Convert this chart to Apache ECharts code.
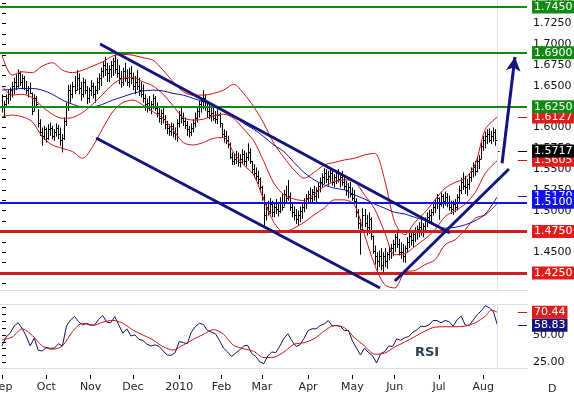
<!DOCTYPE html>
<html>
<head>
<meta charset="utf-8">
<script src="https://cdn.jsdelivr.net/npm/echarts@6/dist/echarts.min.js"></script>
<style>
html, body { margin: 0; padding: 0; background: #fff; }
#chart { width: 574px; height: 397px; }
</style>
</head>
<body>
<div id="chart"></div>
<script>
// x = weekday index, 0 = 1 Sep 2009, last bar (246) = 11 Aug 2010
var monthIdx = [0, 22, 44, 65, 88, 109, 129, 152, 174, 195, 217, 239];
var monthNames = ['Sep', 'Oct', 'Nov', 'Dec', '2010', 'Feb', 'Mar', 'Apr', 'May', 'Jun', 'Jul', 'Aug'];

var high = [
  1.640,1.632,1.640,1.645,1.648,1.655,1.660,1.664,1.670,1.668,
  1.664,1.662,1.656,1.650,1.654,1.642,1.640,1.638,1.622,1.610,
  1.600,1.602,1.600,1.604,1.606,1.602,1.598,1.605,1.603,1.600,
  1.592,1.612,1.630,1.651,1.652,1.655,1.662,1.669,1.665,1.655,
  1.660,1.658,1.650,1.648,1.657,1.654,1.650,1.660,1.665,1.672,
  1.680,1.685,1.678,1.675,1.680,1.684,1.688,1.682,1.675,1.668,
  1.672,1.678,1.670,1.672,1.674,1.666,1.662,1.669,1.660,1.655,
  1.652,1.640,1.635,1.638,1.632,1.640,1.638,1.630,1.625,1.622,
  1.625,1.615,1.608,1.604,1.606,1.605,1.600,1.610,1.620,1.624,
  1.618,1.612,1.608,1.602,1.605,1.610,1.618,1.625,1.632,1.636,
  1.645,1.640,1.630,1.628,1.625,1.627,1.620,1.622,1.618,1.605,
  1.598,1.596,1.590,1.582,1.570,1.568,1.572,1.570,1.568,1.574,
  1.572,1.570,1.581,1.575,1.560,1.556,1.552,1.548,1.540,1.530,
  1.520,1.510,1.512,1.515,1.512,1.508,1.514,1.510,1.516,1.520,
  1.525,1.530,1.537,1.522,1.510,1.505,1.502,1.500,1.505,1.508,
  1.515,1.520,1.524,1.528,1.526,1.530,1.528,1.534,1.540,1.545,
  1.551,1.550,1.548,1.550,1.548,1.544,1.549,1.550,1.545,1.548,
  1.542,1.536,1.533,1.535,1.528,1.525,1.515,1.502,1.490,1.503,
  1.502,1.495,1.498,1.492,1.470,1.458,1.450,1.452,1.455,1.450,
  1.455,1.450,1.458,1.460,1.465,1.472,1.477,1.466,1.462,1.460,
  1.458,1.468,1.474,1.477,1.475,1.480,1.482,1.486,1.489,1.485,
  1.492,1.498,1.501,1.502,1.510,1.514,1.520,1.516,1.522,1.520,
  1.523,1.521,1.518,1.512,1.512,1.514,1.520,1.530,1.540,1.546,
  1.542,1.538,1.545,1.552,1.558,1.560,1.565,1.567,1.582,1.590,
  1.595,1.598,1.599,1.596,1.600,1.598,1.586
];
var low = [
  1.618,1.612,1.625,1.628,1.632,1.636,1.640,1.645,1.648,1.650,
  1.646,1.645,1.640,1.636,1.640,1.615,1.620,1.624,1.600,1.590,
  1.578,1.585,1.582,1.585,1.590,1.586,1.584,1.589,1.586,1.578,
  1.570,1.585,1.602,1.620,1.630,1.635,1.640,1.645,1.640,1.632,
  1.636,1.640,1.628,1.630,1.638,1.635,1.630,1.640,1.645,1.650,
  1.660,1.662,1.655,1.655,1.660,1.662,1.665,1.660,1.652,1.648,
  1.650,1.655,1.650,1.648,1.652,1.645,1.640,1.645,1.638,1.636,
  1.630,1.620,1.618,1.620,1.616,1.622,1.620,1.612,1.606,1.603,
  1.605,1.598,1.592,1.590,1.590,1.588,1.585,1.583,1.600,1.605,
  1.602,1.598,1.590,1.588,1.590,1.594,1.600,1.606,1.612,1.618,
  1.622,1.620,1.612,1.610,1.607,1.608,1.605,1.604,1.600,1.588,
  1.582,1.580,1.575,1.562,1.555,1.555,1.556,1.553,1.552,1.556,
  1.555,1.553,1.560,1.556,1.545,1.540,1.536,1.532,1.522,1.512,
  1.480,1.488,1.494,1.496,1.492,1.492,1.496,1.493,1.497,1.500,
  1.505,1.510,1.512,1.500,1.492,1.488,1.484,1.482,1.486,1.490,
  1.498,1.502,1.508,1.510,1.509,1.512,1.510,1.515,1.522,1.528,
  1.532,1.533,1.530,1.534,1.530,1.528,1.532,1.534,1.528,1.530,
  1.525,1.518,1.515,1.516,1.512,1.508,1.492,1.478,1.447,1.475,
  1.480,1.470,1.472,1.465,1.448,1.435,1.428,1.432,1.428,1.425,
  1.432,1.430,1.440,1.442,1.445,1.450,1.455,1.446,1.442,1.438,
  1.437,1.450,1.455,1.458,1.456,1.462,1.465,1.468,1.470,1.468,
  1.474,1.480,1.484,1.485,1.494,1.497,1.502,1.489,1.505,1.503,
  1.506,1.504,1.500,1.496,1.495,1.498,1.500,1.510,1.520,1.525,
  1.520,1.518,1.525,1.535,1.540,1.542,1.546,1.550,1.562,1.572,
  1.575,1.580,1.582,1.580,1.583,1.578,1.567
];
var close = [
  1.625,1.628,1.636,1.640,1.645,1.650,1.655,1.650,1.665,1.655,
  1.660,1.648,1.645,1.648,1.642,1.620,1.635,1.628,1.605,1.595,
  1.590,1.598,1.588,1.598,1.600,1.590,1.595,1.600,1.592,1.585,
  1.588,1.608,1.625,1.645,1.640,1.650,1.645,1.660,1.648,1.640,
  1.655,1.645,1.635,1.645,1.650,1.640,1.645,1.655,1.660,1.668,
  1.675,1.670,1.665,1.670,1.675,1.680,1.670,1.665,1.660,1.655,
  1.668,1.660,1.655,1.665,1.660,1.650,1.655,1.650,1.645,1.640,
  1.635,1.628,1.630,1.625,1.628,1.635,1.624,1.618,1.612,1.618,
  1.610,1.604,1.600,1.596,1.602,1.594,1.592,1.605,1.615,1.612,
  1.608,1.603,1.598,1.595,1.600,1.606,1.612,1.620,1.628,1.625,
  1.635,1.625,1.620,1.615,1.618,1.612,1.610,1.615,1.605,1.592,
  1.590,1.585,1.580,1.565,1.560,1.562,1.565,1.558,1.562,1.568,
  1.560,1.565,1.570,1.560,1.550,1.545,1.542,1.538,1.528,1.516,
  1.495,1.505,1.500,1.508,1.498,1.504,1.502,1.500,1.510,1.505,
  1.520,1.515,1.518,1.505,1.498,1.495,1.490,1.495,1.500,1.505,
  1.510,1.515,1.520,1.515,1.522,1.518,1.525,1.530,1.535,1.540,
  1.545,1.538,1.542,1.545,1.535,1.540,1.545,1.538,1.540,1.535,
  1.530,1.525,1.528,1.520,1.515,1.512,1.498,1.485,1.478,1.495,
  1.485,1.480,1.490,1.470,1.452,1.445,1.440,1.445,1.435,1.445,
  1.440,1.448,1.452,1.455,1.460,1.468,1.460,1.450,1.450,1.445,
  1.455,1.462,1.470,1.465,1.472,1.475,1.478,1.480,1.475,1.482,
  1.488,1.492,1.495,1.498,1.505,1.510,1.515,1.508,1.518,1.512,
  1.516,1.510,1.505,1.502,1.508,1.505,1.516,1.525,1.535,1.530,
  1.528,1.532,1.540,1.548,1.552,1.548,1.560,1.562,1.578,1.585,
  1.590,1.592,1.585,1.590,1.595,1.585,1.5717
];

// Bollinger bands and moving average, read every 5 bars
var bandIdx = [0,5,10,15,20,25,30,35,40,45,50,55,60,65,70,75,80,85,90,95,
  100,105,110,115,120,125,130,135,140,145,150,155,160,165,170,175,180,185,190,195,
  200,205,210,215,220,225,230,235,240,246];
var bbUpper = [
  1.687,1.663,1.667,1.666,1.674,1.678,1.669,1.666,1.669,1.674,
  1.679,1.686,1.688,1.687,1.684,1.681,1.669,1.655,1.643,1.639,
  1.639,1.641,1.645,1.652,1.641,1.625,1.605,1.581,1.564,1.549,
  1.539,1.546,1.555,1.558,1.561,1.563,1.567,1.569,1.537,1.486,
  1.471,1.486,1.498,1.513,1.527,1.534,1.539,1.556,1.598,1.6127
];
var bbMiddle = [
  1.650,1.639,1.640,1.636,1.625,1.616,1.611,1.612,1.618,1.628,
  1.640,1.652,1.659,1.660,1.655,1.650,1.640,1.626,1.612,1.609,
  1.610,1.614,1.616,1.611,1.598,1.584,1.559,1.533,1.519,1.514,
  1.512,1.520,1.529,1.535,1.537,1.535,1.519,1.502,1.474,1.447,
  1.448,1.457,1.466,1.477,1.493,1.500,1.508,1.522,1.545,1.5605
];
var bbLower = [
  1.613,1.615,1.613,1.607,1.589,1.579,1.575,1.571,1.563,1.577,
  1.599,1.619,1.630,1.633,1.627,1.619,1.611,1.597,1.582,1.579,
  1.582,1.587,1.588,1.570,1.555,1.543,1.513,1.486,1.474,1.479,
  1.486,1.495,1.503,1.513,1.513,1.507,1.471,1.435,1.411,1.407,
  1.426,1.428,1.435,1.441,1.459,1.465,1.477,1.491,1.495,1.509
];
var maBlue = [
  1.645,1.646,1.647,1.647,1.645,1.640,1.633,1.628,1.625,1.625,
  1.628,1.633,1.637,1.641,1.644,1.645,1.644,1.641,1.639,1.635,
  1.631,1.626,1.621,1.614,1.605,1.598,1.589,1.579,1.571,1.558,
  1.546,1.537,1.531,1.527,1.525,1.519,1.514,1.508,1.503,1.498,
  1.496,1.492,1.488,1.482,1.479,1.480,1.483,1.488,1.496,1.517
];

// RSI, every second bar
var rsi = [
  40,48,51.4,58,61,56,49,40,47,36,
  35.5,38.5,37.8,38,42,40,58,63.5,66.8,62,
  59,60.5,59,59,64,67.5,61.5,61,66.5,59,
  51.5,55.5,49,50,46,45,41.5,40,41,39.5,
  35.5,31.8,31.5,34,44,43,42,52.5,57.5,60.5,
  59.5,54,52.5,51,45,38,34.5,30.5,33.5,36.3,
  40,40.5,33,30.5,25.5,24,31,34.5,34,40,
  47,51,44.5,39.5,41,47,54,55.5,55.5,58.5,
  60,63,58,58.5,57.8,54,54,44.5,38,31.8,
  38,34,31,24.5,33,34.8,40,39.5,46.5,45,
  47.5,48.5,52.5,54.5,58,57.5,59,63,63,61,
  63,62,57.8,63.8,67,59,58.5,63.5,68.2,72,
  76.5,74.5,71,58.83
];
// RSI signal line, every 5 bars
var sigIdx = [0,5,10,15,20,25,30,35,40,45,50,55,60,65,70,75,80,85,90,95,
  100,105,110,115,120,125,130,135,140,145,150,155,160,165,170,175,180,185,190,195,
  200,205,210,215,220,225,230,235,240,243,246];
var rsiSignal = [
  45.5,48,55.5,49.5,40,37,40,53,60.5,58.5,
  61.5,63.2,60.5,54.4,49.9,45.4,39.3,36.3,40.8,46,
  50.5,54.8,50.5,40.5,37.5,35,29.5,29.8,34.5,41.5,
  43,46.5,53.5,58.5,56.5,47.5,40,32.5,33.5,39,
  43.5,48.5,53.5,57,57.4,57.4,58,61,67,72.5,70.44
];

// hand-drawn trend lines: [index, price]
var chanTop = [[48.66, 1.7005], [222.4, 1.4731]];
var chanBottom = [[46.7, 1.5874], [187.7, 1.4070]];
var riseLine = [[195.1, 1.4154], [251.7, 1.5501]];
var arrowLine = [[248.3, 1.5570], [254.7, 1.6848]];

// support / resistance levels
var greenLevels = [1.7450, 1.6900, 1.6250];
var blueLevels = [1.5100];
var redLevels = [1.4750, 1.4250];
// current values of the indicators
var lastUpper = 1.6127, lastClose = 1.5717, lastMiddle = 1.5605, lastMa = 1.5170;
var lastSignal = 70.44, lastRsi = 58.83;
var lastBar = 246;

var priceTicks = [1.4125,1.425,1.4375,1.45,1.4625,1.475,1.4875,1.5,1.5125,1.525,1.5375,1.55,1.5625,
  1.575,1.5875,1.6,1.6125,1.625,1.6375,1.65,1.6625,1.675,1.6875,1.7,1.7125,1.725,1.7375,1.75];
var priceLabels = [1.425,1.45,1.475,1.5,1.525,1.55,1.575,1.6,1.625,1.65,1.675,1.7,1.725,1.75];
var rsiTicks = [25,31.25,37.5,43.75,50,56.25,62.5,68.75,75];
var rsiLabels = [25, 50];

var XMIN = -0.993, XMAX = 260.68;
var PMIN = 1.404549, PMAX = 1.753421;
var SHORT_START = 256.2;

var FONT = 'DejaVu Sans';
var GREEN = '#128a12', RED = '#e01c1c', BLUE = '#1212e6', NAVY = '#14147a';

function pairs(idx, vals) {
  return vals.map(function (v, k) { return [idx[k], v]; });
}
var rsiIdx = rsi.map(function (v, k) { return k === rsi.length - 1 ? lastBar : k * 2; });
var barData = high.map(function (h, i) { return [i, h, low[i], close[i]]; });

function drawBar(params, api) {
  var i = api.value(0);
  var hi = api.coord([i, api.value(1)]);
  var lo = api.coord([i, api.value(2)]);
  var cl = api.coord([i, api.value(3)]);
  var x = Math.round(hi[0]) + 0.5;
  var yc = Math.round(cl[1]) + 0.5;
  return {
    type: 'group',
    children: [
      { type: 'line', shape: { x1: x, y1: hi[1], x2: x, y2: lo[1] }, style: { stroke: '#000', lineWidth: 1 } },
      { type: 'line', shape: { x1: x, y1: yc, x2: x + 2, y2: yc }, style: { stroke: '#000', lineWidth: 1 } }
    ]
  };
}

function boxLabel(text, bg) {
  return {
    show: true, position: 'end', distance: 5, formatter: text,
    color: '#fff', backgroundColor: bg, padding: [1, 2, 0, 2],
    fontFamily: FONT, fontSize: 11, lineHeight: 12
  };
}
function level(v, color, width, bg) {
  return { yAxis: v, lineStyle: { color: color, width: width, type: 'solid' }, label: boxLabel(v.toFixed(4), bg) };
}
function shortMark(v, color, bg, digits) {
  return [
    { coord: [SHORT_START, v], lineStyle: { color: color, width: 1, type: 'solid' }, label: boxLabel(v.toFixed(digits), bg) },
    { coord: [XMAX, v] }
  ];
}
function trend(pts, withArrow) {
  var a = { coord: pts[0], lineStyle: { color: NAVY, width: 3, type: 'solid' }, label: { show: false } };
  var b = { coord: pts[1] };
  if (withArrow) { b.symbol = 'arrow'; b.symbolSize = [11, 14]; }
  return [a, b];
}

var levelData = [
  shortMark(lastUpper, '#d01010', RED, 4),
  shortMark(lastMiddle, '#d01010', RED, 4),
  shortMark(lastMa, BLUE, BLUE, 4),
  shortMark(lastClose, '#000', '#000', 4)
];
greenLevels.forEach(function (v) { levelData.push(level(v, GREEN, 2, GREEN)); });
blueLevels.forEach(function (v) { levelData.push(level(v, BLUE, 2, BLUE)); });
redLevels.forEach(function (v) { levelData.push(level(v, '#cc2020', 3, RED)); });

var lastBarLine = { xAxis: lastBar, lineStyle: { color: '#d8e2ee', width: 1, type: 'solid' }, label: { show: false } };

var myChart = echarts.init(document.getElementById('chart'), null, { renderer: 'canvas' });
var option = {
  animation: false,
  textStyle: { fontFamily: FONT },
  grid: [
    { left: 0, top: 0, width: 527, height: 290, containLabel: false, outerBoundsMode: 'none' },
    { left: 0, top: 304, width: 527, height: 64, containLabel: false, outerBoundsMode: 'none' }
  ],
  xAxis: [
    { type: 'value', gridIndex: 0, min: XMIN, max: XMAX, position: 'bottom',
      axisLine: { show: true, lineStyle: { color: '#d4dde8', width: 1 } },
      axisTick: { show: false }, axisLabel: { show: false }, splitLine: { show: false } },
    { type: 'value', gridIndex: 1, min: XMIN, max: XMAX, position: 'top',
      axisLine: { show: true, lineStyle: { color: '#d4dde8', width: 1 } },
      axisTick: { show: false }, axisLabel: { show: false }, splitLine: { show: false } },
    { type: 'value', gridIndex: 1, min: XMIN, max: XMAX, position: 'bottom',
      axisLine: { show: true, lineStyle: { color: '#d4dde8', width: 1 } },
      axisTick: { show: false }, axisLabel: { show: false }, splitLine: { show: false } },
    { type: 'value', gridIndex: 1, min: XMIN, max: XMAX, position: 'bottom', offset: 7,
      axisLine: { show: false },
      axisTick: { show: true, length: 4, customValues: monthIdx, lineStyle: { color: '#000' } },
      axisLabel: { show: true, customValues: monthIdx, margin: 7, color: '#222', fontSize: 11, fontFamily: FONT,
        formatter: function (v) { var k = monthIdx.indexOf(v); return k >= 0 ? monthNames[k] : ''; } },
      splitLine: { show: false } }
  ],
  yAxis: [
    { type: 'value', gridIndex: 0, position: 'right', min: PMIN, max: PMAX,
      axisLine: { show: false },
      axisTick: { show: true, length: 4, customValues: priceTicks, lineStyle: { color: '#000' } },
      axisLabel: { show: true, customValues: priceLabels, margin: 6, color: '#111', fontSize: 11, fontFamily: FONT,
        formatter: function (v) { return v.toFixed(4); } },
      splitLine: { show: false } },
    { type: 'value', gridIndex: 1, position: 'right', min: 20, max: 78,
      axisLine: { show: false },
      axisTick: { show: true, length: 4, customValues: rsiTicks, lineStyle: { color: '#000' } },
      axisLabel: { show: true, customValues: rsiLabels, margin: 6, color: '#111', fontSize: 11, fontFamily: FONT,
        formatter: function (v) { return v.toFixed(2); } },
      splitLine: { show: false } }
  ],
  graphic: [
    { type: 'text', left: 415, top: 346, style: { text: 'RSI', fill: '#2f3f4f', font: 'bold 13px "DejaVu Sans"' } },
    { type: 'text', left: 548, top: 384, style: { text: 'D', fill: '#222', font: '11px "DejaVu Sans"' } }
  ],
  series: [
    { type: 'custom', name: 'bars', xAxisIndex: 0, yAxisIndex: 0, renderItem: drawBar, data: barData,
      encode: { x: 0, y: [1, 2, 3] }, clip: true, silent: true, z: 2 },
    { type: 'line', name: 'upper', xAxisIndex: 0, yAxisIndex: 0, data: pairs(bandIdx, bbUpper), smooth: 0.3,
      showSymbol: false, silent: true, lineStyle: { color: '#d01010', width: 1 }, z: 3,
      markLine: { silent: true, precision: 6, symbol: ['none', 'none'], animation: false, data: [lastBarLine] } },
    { type: 'line', name: 'middle', xAxisIndex: 0, yAxisIndex: 0, data: pairs(bandIdx, bbMiddle), smooth: 0.3,
      showSymbol: false, silent: true, lineStyle: { color: '#d01010', width: 1 }, z: 3 },
    { type: 'line', name: 'lower', xAxisIndex: 0, yAxisIndex: 0, data: pairs(bandIdx, bbLower), smooth: 0.3,
      showSymbol: false, silent: true, lineStyle: { color: '#d01010', width: 1 }, z: 3 },
    { type: 'line', name: 'ma', xAxisIndex: 0, yAxisIndex: 0, data: pairs(bandIdx, maBlue), smooth: 0.3,
      showSymbol: false, silent: true, lineStyle: { color: '#1010a0', width: 1 }, z: 4,
      markLine: { silent: true, precision: 6, symbol: ['none', 'none'], animation: false, data: levelData } },
    { type: 'line', name: 'trends', xAxisIndex: 0, yAxisIndex: 0, data: chanTop, showSymbol: false, silent: true,
      lineStyle: { width: 0, opacity: 0 }, z: 5,
      markLine: { silent: true, precision: 6, symbol: ['none', 'none'], animation: false,
        data: [trend(chanTop), trend(chanBottom), trend(riseLine), trend(arrowLine, true)] } },
    { type: 'line', name: 'rsi', xAxisIndex: 2, yAxisIndex: 1, data: pairs(rsiIdx, rsi),
      showSymbol: false, silent: true, lineStyle: { color: '#101060', width: 1 }, z: 3,
      markLine: { silent: true, precision: 6, symbol: ['none', 'none'], animation: false, data: [lastBarLine] } },
    { type: 'line', name: 'signal', xAxisIndex: 2, yAxisIndex: 1, data: pairs(sigIdx, rsiSignal), smooth: 0.3,
      showSymbol: false, silent: true, lineStyle: { color: '#c81414', width: 1 }, z: 4,
      markLine: { silent: true, precision: 6, symbol: ['none', 'none'], animation: false,
        data: [shortMark(lastSignal, '#c81414', RED, 2), shortMark(lastRsi, NAVY, NAVY, 2)] } }
  ]
};
option && myChart.setOption(option);
</script>
</body>
</html>
